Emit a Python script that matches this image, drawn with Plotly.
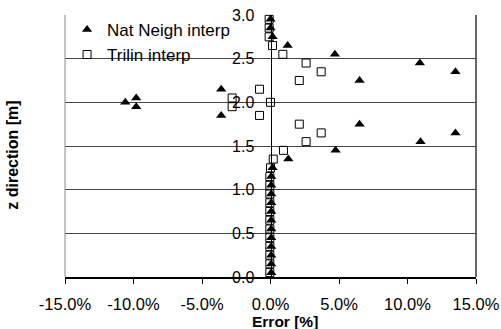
import plotly.graph_objects as go

# z positions [m]
z_vals = [2.95, 2.85, 2.75, 2.65, 2.55, 2.45, 2.35, 2.25, 2.15, 2.05, 2.0,
          1.95, 1.85, 1.75, 1.65, 1.55, 1.45, 1.35, 1.25, 1.15, 1.05, 0.95,
          0.85, 0.75, 0.65, 0.55, 0.45, 0.35, 0.25, 0.15, 0.05]

# Error [%] - natural neighbour interpolation
nat_neigh = [0.0, 0.0, 0.15, 1.25, 4.7, 10.9, 13.5, 6.5, -3.6, -9.8, -10.6,
             -9.8, -3.6, 6.5, 13.5, 10.95, 4.75, 1.3, 0.15, 0.05, 0.05, 0.05,
             0.05, 0.05, 0.05, 0.05, 0.05, 0.05, 0.05, 0.05, 0.05]

# Error [%] - trilinear interpolation
trilin = [-0.1, -0.1, -0.1, 0.15, 0.9, 2.6, 3.7, 2.1, -0.8, -2.8, 0.0,
          -2.8, -0.8, 2.1, 3.7, 2.6, 0.95, 0.2, 0.0, -0.05, -0.05, -0.05,
          -0.05, -0.05, -0.05, -0.05, -0.05, -0.05, -0.05, -0.05, -0.05]

x_tickvals = [-15, -10, -5, 0, 5, 10, 15]
x_ticktext = ["-15.0%", "-10.0%", "-5.0%", "0.0%", "5.0%", "10.0%", "15.0%"]
y_tickvals = [0, 0.5, 1.0, 1.5, 2.0, 2.5, 3.0]
y_ticktext = ["0.0", "0.5", "1.0", "1.5", "2.0", "2.5", "3.0"]

FONT = "Liberation Sans, Arial, sans-serif"

fig = go.Figure()
fig.add_trace(go.Scatter(
    x=nat_neigh, y=z_vals, mode="markers", name="Nat Neigh interp",
    marker=dict(symbol="triangle-up", size=9, color="black"),
    cliponaxis=False))
fig.add_trace(go.Scatter(
    x=trilin, y=z_vals, mode="markers", name="Trilin interp",
    marker=dict(symbol="square-open", size=8, color="black",
                line=dict(width=1, color="black")),
    cliponaxis=False))

fig.update_layout(
    width=501, height=329,
    margin=dict(l=65, r=25, t=15, b=52, autoexpand=False),
    paper_bgcolor="white", plot_bgcolor="white",
    font=dict(family=FONT, size=16, color="black"),
    showlegend=True,
    legend=dict(x=0.005, y=1.012, xanchor="left", yanchor="top",
                bgcolor="rgba(0,0,0,0)", borderwidth=0,
                font=dict(size=17), itemwidth=30, tracegroupgap=0),
    xaxis=dict(range=[-15, 15], tickvals=x_tickvals, ticktext=x_ticktext,
               showgrid=False, zeroline=False, showline=True,
               linecolor="black", linewidth=1.5, ticks="outside",
               ticklen=5, tickcolor="black", ticklabelstandoff=6,
               tickfont=dict(size=16.5), automargin=False),
    yaxis=dict(range=[0, 3], tickvals=y_tickvals, ticktext=y_ticktext,
               anchor="free", position=0.5, showgrid=True,
               gridcolor="#444", gridwidth=1, zeroline=False,
               showline=True, linecolor="black", linewidth=1, ticks="",
               ticklabelstandoff=13, tickfont=dict(size=16),
               automargin=False),
    shapes=[
        dict(type="line", xref="paper", yref="paper", x0=0, x1=0, y0=0, y1=1,
             line=dict(color="#888", width=1)),
        dict(type="line", xref="paper", yref="paper", x0=1, x1=1, y0=0, y1=1,
             line=dict(color="#333", width=1.5)),
    ],
    annotations=[
        dict(text="<b>z direction [m]</b>", textangle=-90, xref="paper",
             yref="paper", x=-0.127, y=0.466, xanchor="center",
             yanchor="middle", showarrow=False, font=dict(size=16)),
        dict(text="<b>Error [%]</b>", xref="paper", yref="paper",
             x=0.535, y=-0.168, xanchor="center", yanchor="middle",
             showarrow=False, font=dict(size=15.5)),
    ],
)

fig.write_html("out.html")
